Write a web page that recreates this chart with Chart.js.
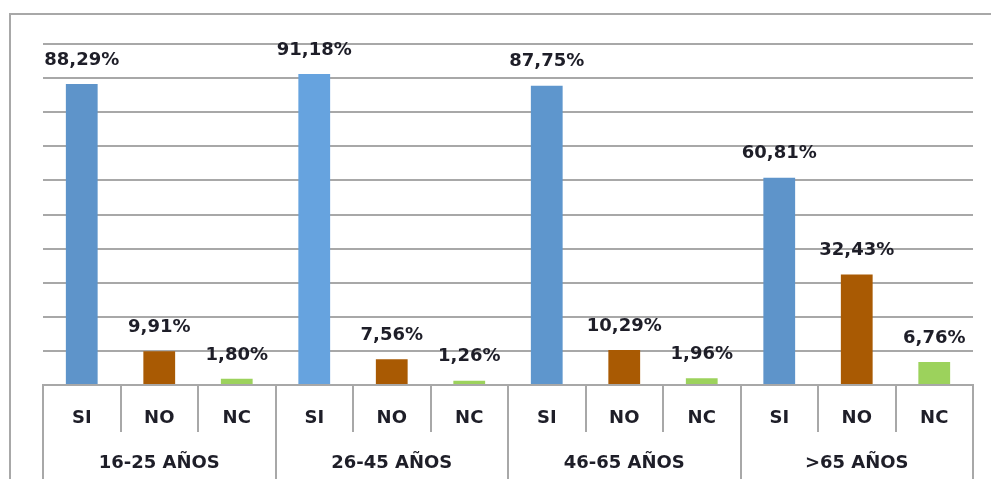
<!DOCTYPE html>
<html>
<head>
<meta charset="utf-8">
<script src="https://cdn.jsdelivr.net/npm/chart.js@4/dist/chart.umd.min.js"></script>
<style>
  html, body { margin: 0; padding: 0; background: #fff; overflow: hidden; }
  #wrap { position: relative; width: 991px; height: 479px; overflow: hidden; background: #fff; }
  #hline { position: absolute; left: 9px; top: 13px; width: 982px; height: 2px; background: #A8A8A8; }
  #vline { position: absolute; left: 9px; top: 13px; width: 2px; height: 466px; background: #A8A8A8; }
  #c { position: absolute; left: 0; top: 0; }
</style>
</head>
<body>
<div id="wrap">
  <div id="hline"></div>
  <div id="vline"></div>
  <canvas id="c" width="991" height="479"></canvas>
</div>
<script>
// ---- data ----
const groups = ['16-25 AÑOS', '26-45 AÑOS', '46-65 AÑOS', '>65 AÑOS'];
const answers = ['SI', 'NO', 'NC'];
const siValues = [88.29, 91.18, 87.75, 60.81];
const noValues = [9.91, 7.56, 10.29, 32.43];
const ncValues = [1.80, 1.26, 1.96, 6.76];
const siColors = ['#5E94CA', '#66A3DF', '#5E96CD', '#5E94CA'];
const noColor = '#A95A03';
const ncColor = '#9CD25C';

// ---- build ----
const labels = [];
const values = [];
const colors = [];
groups.forEach((g, i) => {
  labels.push(answers[0], answers[1], answers[2]);
  values.push(siValues[i], noValues[i], ncValues[i]);
  colors.push(siColors[i], noColor, ncColor);
});

const FONT = "'DejaVu Sans', sans-serif";
const GRID = '#A8A8A8';
const TEXT = '#1E1E28';

const valueLabels = {
  id: 'valueLabels',
  afterDatasetsDraw(chart) {
    const ctx = chart.ctx;
    const meta = chart.getDatasetMeta(0);
    ctx.save();
    ctx.font = "bold 18px " + FONT;
    ctx.fillStyle = TEXT;
    ctx.textAlign = 'center';
    ctx.textBaseline = 'middle';
    meta.data.forEach((bar, i) => {
      const txt = values[i].toFixed(2).replace('.', ',') + '%';
      ctx.fillText(txt, bar.x, bar.y - 24);
    });
    ctx.restore();
  }
};

new Chart(document.getElementById('c'), {
  type: 'bar',
  data: {
    labels: labels,
    datasets: [{
      data: values,
      backgroundColor: colors,
      borderWidth: 0,
      barPercentage: 0.41,
      categoryPercentage: 1.0
    }]
  },
  options: {
    responsive: false,
    animation: false,
    events: [],
    layout: { padding: { left: 43, right: 18, top: 44, bottom: 0 } },
    plugins: { legend: { display: false }, tooltip: { enabled: false }, title: { display: false } },
    scales: {
      y: {
        min: 0, max: 100,
        ticks: { display: false, stepSize: 10 },
        grid: { color: GRID, lineWidth: 2, drawTicks: false },
        border: { display: false },
        afterFit(s) { s.width = 0; }
      },
      x: {
        position: 'bottom',
        offset: true,
        grid: { offset: true, drawOnChartArea: false, drawTicks: true, tickLength: 47, color: GRID, lineWidth: 2 },
        border: { display: true, color: GRID, width: 2 },
        ticks: { font: { family: FONT, size: 18, weight: 'bold' }, color: TEXT, padding: -24, maxRotation: 0, autoSkip: false },
        afterFit(s) { s.height = 47; }
      },
      x2: {
        type: 'category',
        labels: groups,
        position: 'bottom',
        offset: true,
        grid: { offset: true, drawOnChartArea: false, drawTicks: true, tickLength: 47, color: GRID, lineWidth: 2 },
        border: { display: false },
        ticks: { font: { family: FONT, size: 18, weight: 'bold' }, color: TEXT, padding: -26, maxRotation: 0, autoSkip: false },
        afterFit(s) { s.height = 47; }
      }
    }
  },
  plugins: [valueLabels]
});
</script>
</body>
</html>
